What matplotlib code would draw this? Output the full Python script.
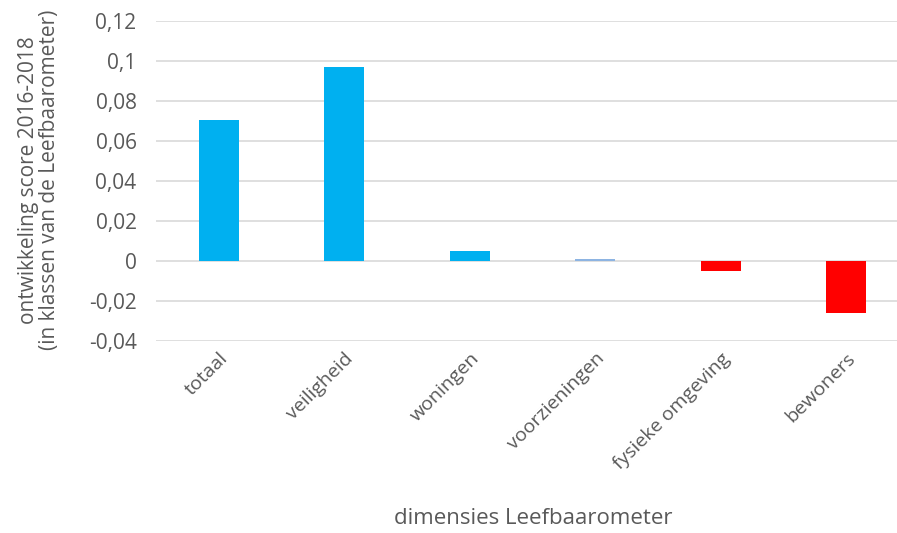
import matplotlib
matplotlib.use("Agg")
import matplotlib.pyplot as plt
from matplotlib.ticker import FuncFormatter

# data
categories = ["totaal", "veiligheid", "woningen", "voorzieningen",
              "fysieke omgeving", "bewoners"]
scores = [0.0705, 0.0968, 0.0049, 0.0012, -0.0048, -0.0262]
bar_colors = ["#00b0f0", "#00b0f0", "#00b0f0", "#8db4e2", "#ff0000", "#ff0000"]
y_ticks = [-0.04, -0.02, 0, 0.02, 0.04, 0.06, 0.08, 0.1, 0.12]

TEXT = "#595959"
GRID = "#d9d9d9"
FONT = ["Open Sans", "DejaVu Sans"]

plt.rcParams["font.family"] = FONT

fig = plt.figure(figsize=(8.97, 5.33), dpi=100, facecolor="white")
ax = fig.add_axes([156 / 897, 1 - 341 / 533, 753 / 897, 320 / 533])

x = list(range(len(categories)))
ax.bar(x, scores, width=0.32, color=bar_colors, zorder=3)

ax.set_xlim(-0.5, len(categories) - 0.5)
ax.set_ylim(-0.04, 0.12)
ax.set_yticks(y_ticks)


def _nl(v, pos):
    s = f"{v:.2f}".rstrip("0").rstrip(".")
    if s in ("-0", "0.0"):
        s = "0"
    return s.replace(".", ",")


ax.yaxis.set_major_formatter(FuncFormatter(_nl))
ax.grid(axis="y", color=GRID, lw=1.2, zorder=0)
for sp in ax.spines.values():
    sp.set_visible(False)
ax.tick_params(length=0, labelsize=15, colors=TEXT)
ax.tick_params(axis="y", pad=14)

ax.set_xticks(x)
ax.set_xticklabels(categories, rotation=45, ha="right", va="top",
                   rotation_mode="anchor", fontsize=14, color=TEXT)
ax.tick_params(axis="x", pad=6)

fig.text(39 / 897, 1 - 180 / 533,
         "ontwikkeling score 2016-2018\n(in klassen van de Leefbaarometer)",
         rotation=90, ha="center", va="center", ma="center",
         fontsize=15, color=TEXT, linespacing=1.0)
fig.text(533 / 897, 1 - 518 / 533, "dimensies Leefbaarometer",
         ha="center", va="center", fontsize=16, color=TEXT)

fig.savefig("out.png", dpi=100, facecolor="white")
